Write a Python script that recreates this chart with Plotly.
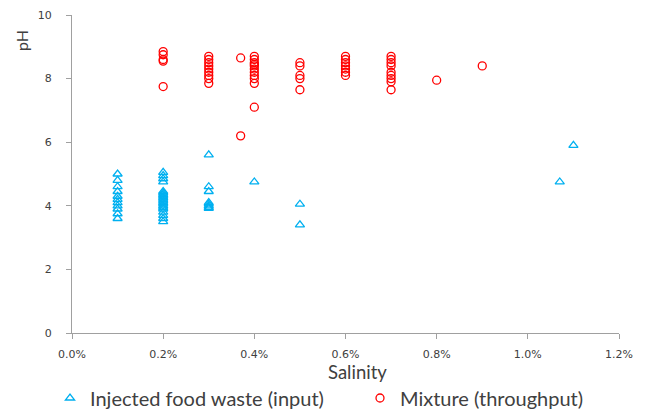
import plotly.graph_objects as go

# Salinity (fraction) and pH values
food_salinity = [0.001]*11 + [0.002]*20 + [0.003]*8 + [0.004, 0.005, 0.005, 0.0107, 0.011]
food_ph = [5.0, 4.8, 4.6, 4.45, 4.3, 4.2, 4.1, 4.0, 3.9, 3.75, 3.6,
           5.05, 4.95, 4.85, 4.75, 4.45, 4.4, 4.35, 4.3, 4.25, 4.2, 4.15, 4.1, 4.05, 4.0, 3.95, 3.9, 3.8, 3.7, 3.6, 3.5,
           5.6, 4.6, 4.45, 4.1, 4.05, 4.0, 3.95, 3.92,
           4.75, 4.05, 3.4, 4.75, 5.9]

mix_salinity = ([0.002]*5 + [0.003]*9 + [0.0037]*2 + [0.004]*11 + [0.005]*5 +
                [0.006]*7 + [0.007]*9 + [0.008, 0.009])
mix_ph = [8.85, 8.75, 8.6, 8.55, 7.75,
          8.7, 8.6, 8.5, 8.4, 8.3, 8.2, 8.1, 8.0, 7.85,
          8.65, 6.2,
          8.7, 8.6, 8.5, 8.45, 8.4, 8.3, 8.2, 8.1, 8.0, 7.85, 7.1,
          8.5, 8.4, 8.1, 8.0, 7.65,
          8.7, 8.6, 8.5, 8.4, 8.3, 8.2, 8.1,
          8.7, 8.6, 8.5, 8.4, 8.2, 8.1, 8.0, 7.9, 7.65,
          7.95, 8.4]

x_ticks = [0, 0.002, 0.004, 0.006, 0.008, 0.010, 0.012]
y_ticks = [0, 2, 4, 6, 8, 10]

fig = go.Figure()
fig.add_trace(go.Scatter(x=food_salinity, y=food_ph, mode="markers",
                         name="Injected food waste (input)", legend="legend",
                         marker=dict(symbol="triangle-up-open", size=8, color="#00B0F0",
                                     line=dict(width=1.3, color="#00B0F0"))))
fig.add_trace(go.Scatter(x=mix_salinity, y=mix_ph, mode="markers",
                         name="Mixture (throughput)", legend="legend2",
                         marker=dict(symbol="circle-open", size=8, color="#FF0000",
                                     line=dict(width=1.3, color="#FF0000"))))

# plot area in page pixels: x 72..619, y 15..333 (page has an 8px body margin)
PW, PH = 547, 318
def px(xp):
    return (xp - 72) / PW
def py(yp):
    return (333 - yp) / PH

axis_font = dict(family="DejaVu Sans", size=11, color="#404040")
legend_font = dict(family="Lato", size=20, color="#404040")
fig.update_layout(
    width=650, height=409,
    margin=dict(l=64, r=39, t=7, b=84, autoexpand=False),
    paper_bgcolor="white", plot_bgcolor="white",
    showlegend=True,
    legend=dict(x=px(50), y=py(398), xanchor="left", yanchor="middle",
                font=legend_font, bgcolor="rgba(0,0,0,0)"),
    legend2=dict(x=px(360), y=py(398), xanchor="left", yanchor="middle",
                 font=legend_font, bgcolor="rgba(0,0,0,0)"),
    xaxis=dict(range=[0, 0.012], tickvals=x_ticks, tickformat=".1%", automargin=False,
               showgrid=False, zeroline=False, showline=True, linecolor="#A0A0A0",
               linewidth=1, ticks="outside", ticklen=5, tickcolor="#A0A0A0",
               tickfont=axis_font, ticklabelstandoff=6),
    yaxis=dict(range=[0, 10], tickvals=y_ticks, automargin=False, showgrid=False,
               zeroline=False, showline=True, linecolor="#A0A0A0", linewidth=1,
               ticks="outside", ticklen=5, tickcolor="#A0A0A0", tickfont=axis_font,
               ticklabelstandoff=12),
    annotations=[
        dict(text="pH", textangle=-90, x=px(22), y=py(41), xref="paper", yref="paper",
             xanchor="center", yanchor="middle", showarrow=False,
             font=dict(family="Lato", size=16, color="#404040")),
        dict(text="Salinity", x=px(357), y=py(372), xref="paper", yref="paper",
             xanchor="center", yanchor="middle", showarrow=False,
             font=dict(family="Lato", size=18.5, color="#404040")),
    ]
)
fig.write_html("out.html")
